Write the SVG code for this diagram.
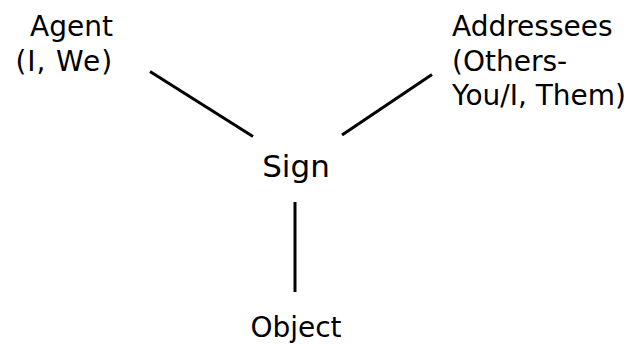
<svg xmlns="http://www.w3.org/2000/svg" width="642" height="344" viewBox="0 0 642 344">
<style>
.lbl{font-family:"DejaVu Sans","Verdana",sans-serif;font-size:28px;fill:#000}
.sign{font-family:"DejaVu Sans","Verdana",sans-serif;font-size:31px;fill:#000}
.conn line{stroke:#000;stroke-width:3;stroke-linecap:butt}
</style>
<rect width="642" height="344" fill="#fff"/>
<g id="connectors" class="conn">
<line x1="150" y1="71.5" x2="253" y2="136.5"/>
<line x1="432" y1="74.5" x2="342" y2="135"/>
<line x1="295" y1="202" x2="295" y2="292"/>
</g>
<g id="agent"><text class="lbl" text-anchor="end"><tspan x="113" y="36">Agent</tspan><tspan x="113" y="71" letter-spacing="0.9">(I, We)</tspan></text></g>
<g id="addressees"><text class="lbl"><tspan x="452" y="36">Addressees</tspan><tspan x="452" y="70.5">(Others-</tspan><tspan x="452" y="105">You/I, Them)</tspan></text></g>
<g id="sign"><text class="sign" x="296" y="177" text-anchor="middle">Sign</text></g>
<g id="object"><text class="lbl" x="296" y="337" text-anchor="middle">Object</text></g>
</svg>
